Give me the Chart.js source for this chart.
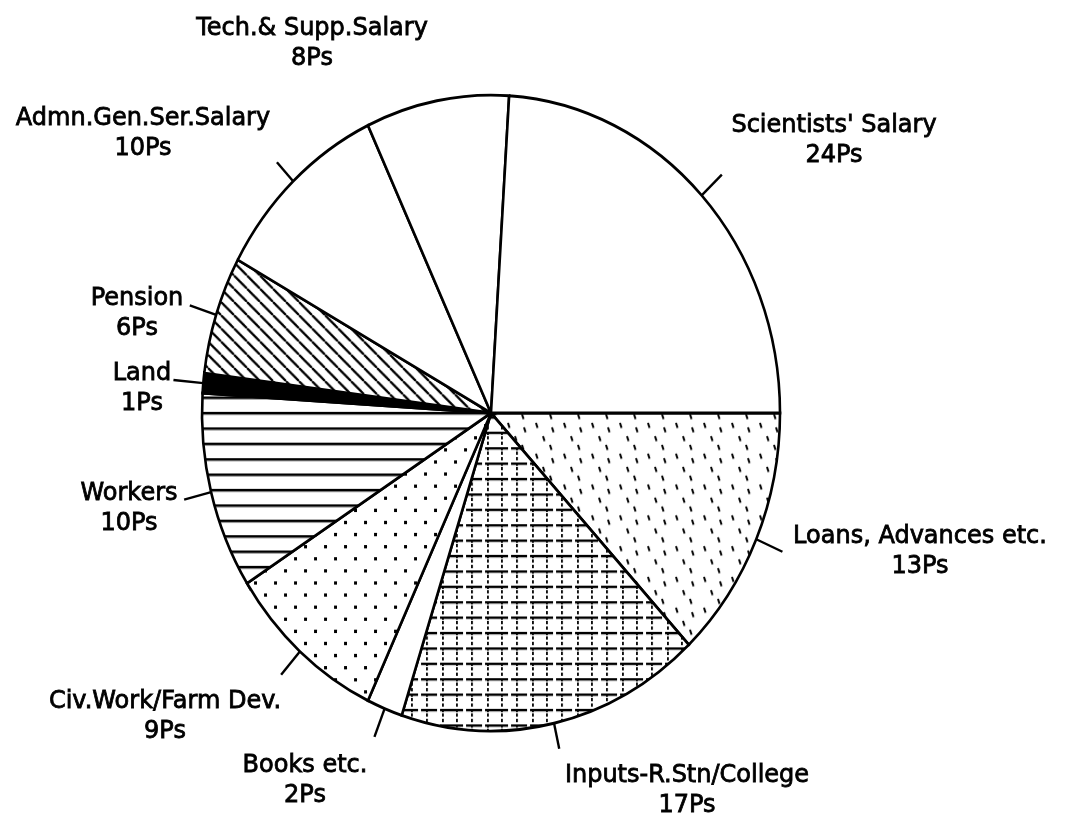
<!DOCTYPE html>
<html>
<head>
<meta charset="utf-8">
<script src="https://cdn.jsdelivr.net/npm/chart.js@4.4.1/dist/chart.umd.min.js"></script>
<style>
  html, body { margin: 0; padding: 0; background: #fff; }
  #wrap { position: relative; width: 1069px; height: 815px; }
</style>
</head>
<body>
<div id="wrap"><canvas id="c" width="1069" height="815"></canvas></div>
<script>
// ---- data (clockwise from 3 o'clock) ----
const categories = [
  "Loans, Advances etc.",
  "Inputs-R.Stn/College",
  "Books etc.",
  "Civ.Work/Farm Dev.",
  "Workers",
  "Land",
  "Pension",
  "Admn.Gen.Ser.Salary",
  "Tech.& Supp.Salary",
  "Scientists' Salary"
];
const values = [13, 17, 2, 9, 10, 1, 6, 10, 8, 24];
const unit = "Ps";

// ---- layout (label anchors: centre x, baseline of first line) ----
const labelPos = [
  [920, 543], [687, 782], [305, 772], [165, 708], [129, 500],
  [142, 380], [137, 305], [143, 125], [312, 35], [834, 132]
];
const leaderLen = [29, 26, 30, 30, 28, 30, 28, 25, 0, 29];
const Y_STRETCH = 1.1;

// ---- hatch patterns ----
function tile(w, h, draw) {
  const c = document.createElement('canvas');
  c.width = w; c.height = h;
  const g = c.getContext('2d');
  g.fillStyle = '#fff'; g.fillRect(0, 0, w, h);
  g.fillStyle = '#000'; g.strokeStyle = '#000';
  draw(g, w, h);
  return g.createPattern(c, 'repeat');
}
const white = '#ffffff';
const pPension = tile(13, 12, (g, w, h) => {
  g.lineWidth = 2.2;
  for (const o of [-w, 0, w]) { g.beginPath(); g.moveTo(o, 0); g.lineTo(o + w, h); g.stroke(); }
});
const pWorkers = tile(10, 14, (g) => { g.fillRect(0, 6, 10, 2.4); });
const pCiv = tile(20, 22, (g) => { g.fillRect(4, 5, 3, 3); g.fillRect(14, 16, 3, 3); });
const pInputs = tile(45, 14, (g) => {
  g.fillRect(0, 10, 13, 2.2); g.fillRect(16, 10, 16, 2.2); g.fillRect(35, 10, 10, 2.2);
  for (const x of [6, 21, 37]) for (let y = 0; y < 14; y += 5) g.fillRect(x, y, 1.8, 3);
});
const pLoans = tile(28, 28, (g) => {
  g.lineWidth = 2;
  for (const [x, y] of [[4, 2], [11, 14], [20, 6], [18, 22]]) {
    g.beginPath(); g.moveTo(x, y); g.lineTo(x + 1.5, y + 4.5); g.stroke();
  }
});
const fills = [pLoans, pInputs, white, pCiv, pWorkers, '#000', pPension, white, white, white];

// ---- plugin: elliptical stretch, leader lines, labels ----
const piePlugin = {
  id: 'piePlugin',
  beforeDatasetsDraw(chart) {
    const a = chart.getDatasetMeta(0).data[0];
    const ctx = chart.ctx;
    ctx.save();
    ctx.translate(a.x, a.y);
    ctx.scale(1, Y_STRETCH);
    ctx.translate(-a.x, -a.y);
  },
  afterDatasetsDraw(chart) {
    const ctx = chart.ctx;
    ctx.restore();
    const arcs = chart.getDatasetMeta(0).data;
    ctx.save();
    ctx.strokeStyle = '#000';
    ctx.lineWidth = 2.4;
    arcs.forEach((a, i) => {
      if (!leaderLen[i]) return;
      const m = (a.startAngle + a.endAngle) / 2;
      const r = a.outerRadius;
      const px = a.x + r * Math.cos(m);
      const py = a.y + r * Math.sin(m) * Y_STRETCH;
      let dx = Math.cos(m), dy = Math.sin(m) * Y_STRETCH;
      const n = Math.hypot(dx, dy); dx /= n; dy /= n;
      ctx.beginPath();
      ctx.moveTo(px, py);
      ctx.lineTo(px + dx * leaderLen[i], py + dy * leaderLen[i]);
      ctx.stroke();
    });
    ctx.font = '24px "DejaVu Sans"';
    ctx.fillStyle = '#000';
    ctx.strokeStyle = '#000';
    ctx.lineWidth = 0.8;
    ctx.textAlign = 'center';
    ctx.textBaseline = 'alphabetic';
    categories.forEach((name, i) => {
      const [x, y] = labelPos[i];
      const v = values[i] + unit;
      ctx.fillText(name, x, y); ctx.strokeText(name, x, y);
      ctx.fillText(v, x, y + 30); ctx.strokeText(v, x, y + 30);
    });
    ctx.restore();
  }
};

new Chart(document.getElementById('c'), {
  type: 'pie',
  data: {
    labels: categories,
    datasets: [{
      data: values,
      backgroundColor: fills,
      borderColor: '#000',
      borderWidth: 2.6,
      borderJoinStyle: 'miter',
      clip: false
    }]
  },
  options: {
    responsive: false,
    animation: false,
    events: [],
    rotation: 90,
    radius: 289,
    layout: { padding: { left: 0, right: 87, top: 11, bottom: 0 } },
    plugins: { legend: { display: false }, tooltip: { enabled: false } }
  },
  plugins: [piePlugin]
});
</script>
</body>
</html>
